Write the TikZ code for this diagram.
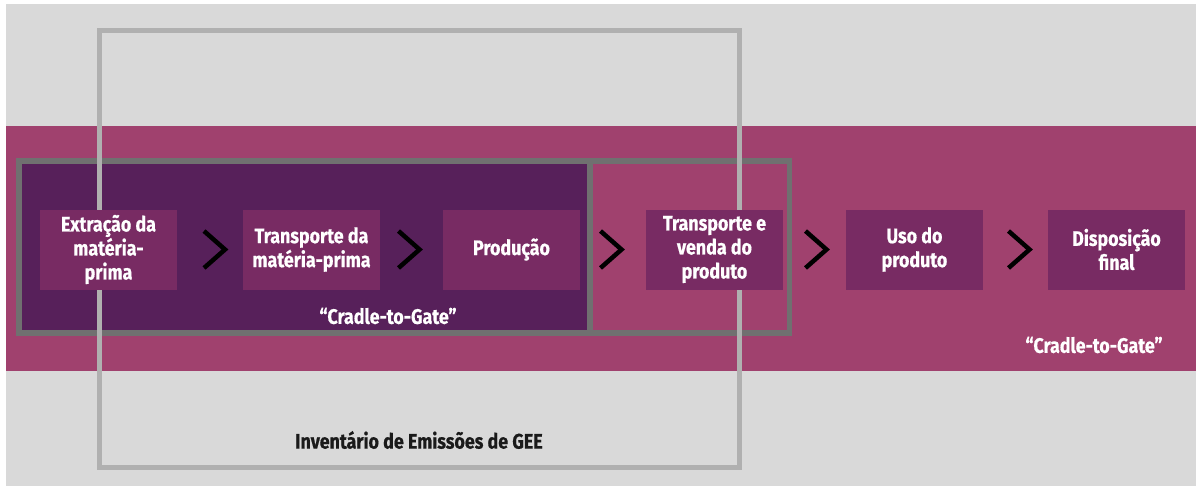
\documentclass[tikz,border=0pt]{standalone}
\usepackage{fontspec}
\usetikzlibrary{calc}
\newfontfamily\stagefont[FakeStretch=0.85, BoldFeatures={FakeBold=0.6}]{Fira Sans}

\definecolor{bandmag}{HTML}{A0416E}
\definecolor{cradlepurple}{HTML}{57205A}
\definecolor{stagefill}{HTML}{782B63}
\definecolor{backgray}{HTML}{D9D9D9}
\definecolor{framedark}{HTML}{707070}
\definecolor{framelight}{HTML}{B0B0B0}
\definecolor{inventink}{HTML}{1A1A1A}

\tikzset{
 stagebox/.style={fill=stagefill, minimum width=137pt, minimum height=80pt,
  inner sep=0pt, align=center, text=white,
  font=\stagefont\bfseries\fontsize{21}{24}\selectfont},
 cradlelabel/.style={text=white, inner sep=0pt,
  font=\stagefont\bfseries\fontsize{21}{24}\selectfont},
 chevron/.style={line width=4.5pt, line cap=butt, line join=miter, black}
}

\begin{document}
\begin{tikzpicture}[x=1pt,y=-1pt,line cap=rect]

 \fill[white] (0,0) rectangle (1203,491);
 \useasboundingbox (0,0) rectangle (1203,491);

 % background and band
 \fill[backgray] (6,4) rectangle (1196,486);
 \fill[bandmag] (6,126) rectangle (1196,371);

 % cradle-to-gate frames
 \fill[cradlepurple] (19,161) rectangle (590,333);
 \draw[framedark, line width=5.5pt] (19,161) rectangle (590,333);
 \draw[framedark, line width=5.5pt] (590,161) rectangle (789.5,333);

 % inventory frame
 \draw[framelight, line width=5pt] (99.5,30.5) rectangle (739.5,467.5);

 \node[stagebox] (s1) at (108.5,249.5) {Extração da\\matéria-\\prima};
 \node[stagebox] (s2) at (311.5,249.5) {Transporte da\\matéria-prima};
 \node[stagebox] (s3) at (511.5,249.5) {Produção};
 \node[stagebox] (s4) at (714.5,249.5) {Transporte e\\venda do\\produto};
 \node[stagebox] (s5) at (914.5,249.5) {Uso do\\produto};
 \node[stagebox] (s6) at (1116.5,249.5) {Disposição\\final};

 \foreach \a/\b/\dx in {s1/s2/5, s2/s3/-2, s3/s4/-1.5, s4/s5/2, s5/s6/4} {
  \coordinate (m\a) at ($(\a.east)!0.5!(\b.west)+(\dx,0)$);
  \draw[chevron] ($(m\a)+(-11,-18.5)$) -- ++(21,18.5) -- ++(-21,18.5);
 }

 \node[cradlelabel] (ctg1) at (388,316) {“Cradle-to-Gate”};
 \node[cradlelabel] (ctg2) at (1094,345) {“Cradle-to-Gate”};
 \node[cradlelabel, text=inventink] (inv) at (419,440) {Inventário de Emissões de GEE};

\end{tikzpicture}
\end{document}
